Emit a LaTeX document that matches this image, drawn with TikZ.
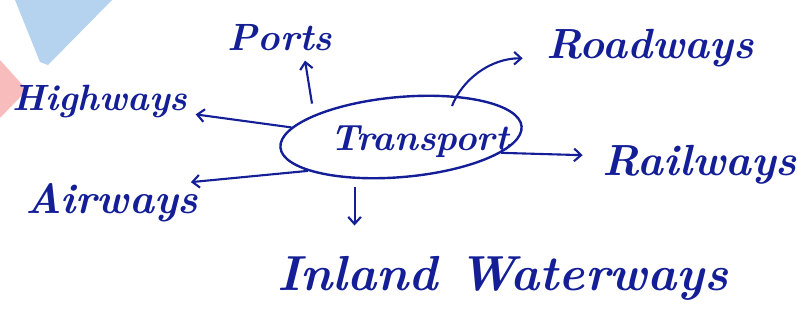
\documentclass[tikz,border=0pt]{standalone}
\usepackage{fontspec}
\usetikzlibrary{shapes.geometric,arrows.meta}

\definecolor{ink}{RGB}{20,30,150}
\definecolor{sky}{RGB}{120,175,225}
\definecolor{blush}{RGB}{245,160,160}

\tikzset{
    word/.style={text=ink, inner sep=0pt, anchor=base,
        font=\bfseries\itshape\fontsize{#1}{#1}\selectfont},
    hub/.style={draw=ink, line width=1.7pt, ellipse, minimum width=6.05cm,
        minimum height=2cm, rotate=5},
    link/.style={draw=ink, line width=1.5pt,
        -{Straight Barb[length=5pt,width=9pt]}},
}

\begin{document}
\begin{tikzpicture}[x=0.025cm,y=-0.025cm]
    \useasboundingbox (0,0) rectangle (797,324);

    % Logo corner
    \fill [sky,opacity=0.55] (15,0) -- (112,0) -- (48,65) -- (40,62) -- cycle;
    \fill [blush,opacity=0.7] (0,60) -- (27,90) -- (0,118) -- cycle;

    % Centre
    \node [hub] (hub) at (401,137) {};
    \node [word=26] (hubtext) at (420,150) {Transport};

    % Branches
    \node [word=27] (ports) at (280,50) {Ports};
    \node [word=30] (roadways) at (650,58) {Roadways};
    \node [word=26] (highways) at (100,110) {Highways};
    \node [word=31] (railways) at (700,175) {Railways};
    \node [word=30] (airways) at (112,213) {Airways};
    \node [word=35] (inland) at (503,290) {Inland Waterways};

    % Arrows
    \coordinate (roadfoot) at (452,106);
    \draw [link] ([shift={(32,53)}]ports.south) -- ([shift={(25,10)}]ports.south);
    \draw [link, shorten >=0.58cm] (roadfoot)
        .. controls (462,80) and (490,58) .. (roadways.186);
    \draw [link, shorten >=0.2cm] (hub.170) -- (highways.-8);
    \draw [link, shorten >=0.15cm] (hub.195) -- (airways.15);
    \draw [link, shorten >=0.5cm] (hub.-14) -- (railways.175);
    \draw [link, shorten <=0.2cm, shorten >=0.75cm]
        (hub.-143) -- (hub.-143 |- inland.north);
\end{tikzpicture}
\end{document}
